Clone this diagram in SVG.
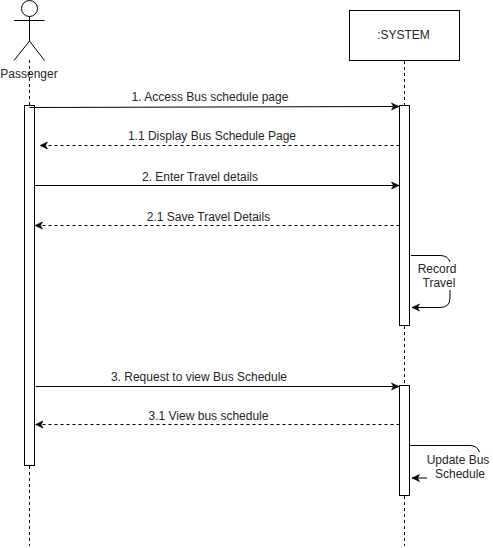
<svg xmlns="http://www.w3.org/2000/svg" width="493" height="548" viewBox="0 0 493 548">
<style>
text{font-family:"Liberation Sans",Arial,sans-serif;font-size:12px;fill:#262626;text-anchor:middle}
.s{fill:none;stroke:#000;stroke-width:1}
.b{fill:#fff;stroke:#000;stroke-width:1}
.l{fill:none;stroke:#000;stroke-width:1;stroke-dasharray:3 3}
.m{fill:none;stroke:#000;stroke-width:1;marker-end:url(#a)}
.r{fill:none;stroke:#000;stroke-width:1;stroke-dasharray:3 3;marker-end:url(#a)}
</style>
<defs>
<marker id="a" markerUnits="userSpaceOnUse" markerWidth="9" markerHeight="9" refX="8" refY="4.500" orient="auto"><path d="M0.500 1L8 4.500L0.500 8L2.500 4.500Z" fill="#000" stroke="#000" stroke-width="0.6"/></marker>
</defs>
<rect width="493" height="548" fill="#fff"/>
<g id="lifelines">
<path class="l" d="M29.500 60V105M29.500 466V546"/>
<path class="l" d="M404.500 61V105M404.500 326V385M404.500 496V546"/>
</g>
<g id="passenger">
<circle class="b" cx="29.500" cy="8.500" r="8"/>
<path class="s" d="M29.500 16.500V41M14 20.500H44.500M14 60.500L29.500 41L44.500 60.500"/>
<text x="29" y="78">Passenger</text>
<rect class="b" x="24.500" y="105.500" width="10" height="360"/>
</g>
<g id="system">
<rect class="b" x="349.500" y="10.500" width="110" height="50"/>
<text x="403.500" y="39">:SYSTEM</text>
<rect class="b" x="399.500" y="105.500" width="10" height="220"/>
<rect class="b" x="399.500" y="385.500" width="10" height="110"/>
</g>
<g id="connectors">
<path class="m" d="M29.500 107.500L399 106.500"/>
<path class="r" d="M399.500 145.500H40"/>
<path class="m" d="M34.500 185.500H399"/>
<path class="r" d="M399.500 225.500H35"/>
<path class="s" d="M411 255.500H440Q448 255.500 450 262"/>
<path class="m" d="M450 290V298Q450 307.500 440 307.500H412"/>
<path class="m" d="M35.500 386.500H399"/>
<path class="r" d="M399.500 424.500H35.500"/>
<path class="s" d="M409.500 445.500H470Q477 445.500 479.500 452"/>
<path class="m" d="M427 478H412"/>
</g>
<g id="labels">
<text x="210" y="101">1. Access Bus schedule page</text>
<text x="212" y="140">1.1 Display Bus Schedule Page</text>
<text x="200" y="181">2. Enter Travel details</text>
<text x="208.500" y="221">2.1 Save Travel Details</text>
<text x="437" y="273">Record</text>
<text x="439" y="287">Travel</text>
<text x="199" y="381">3. Request to view Bus Schedule</text>
<text x="208.500" y="420">3.1 View bus schedule</text>
<text x="458" y="464">Update Bus</text>
<text x="460" y="478">Schedule</text>
</g>
</svg>
